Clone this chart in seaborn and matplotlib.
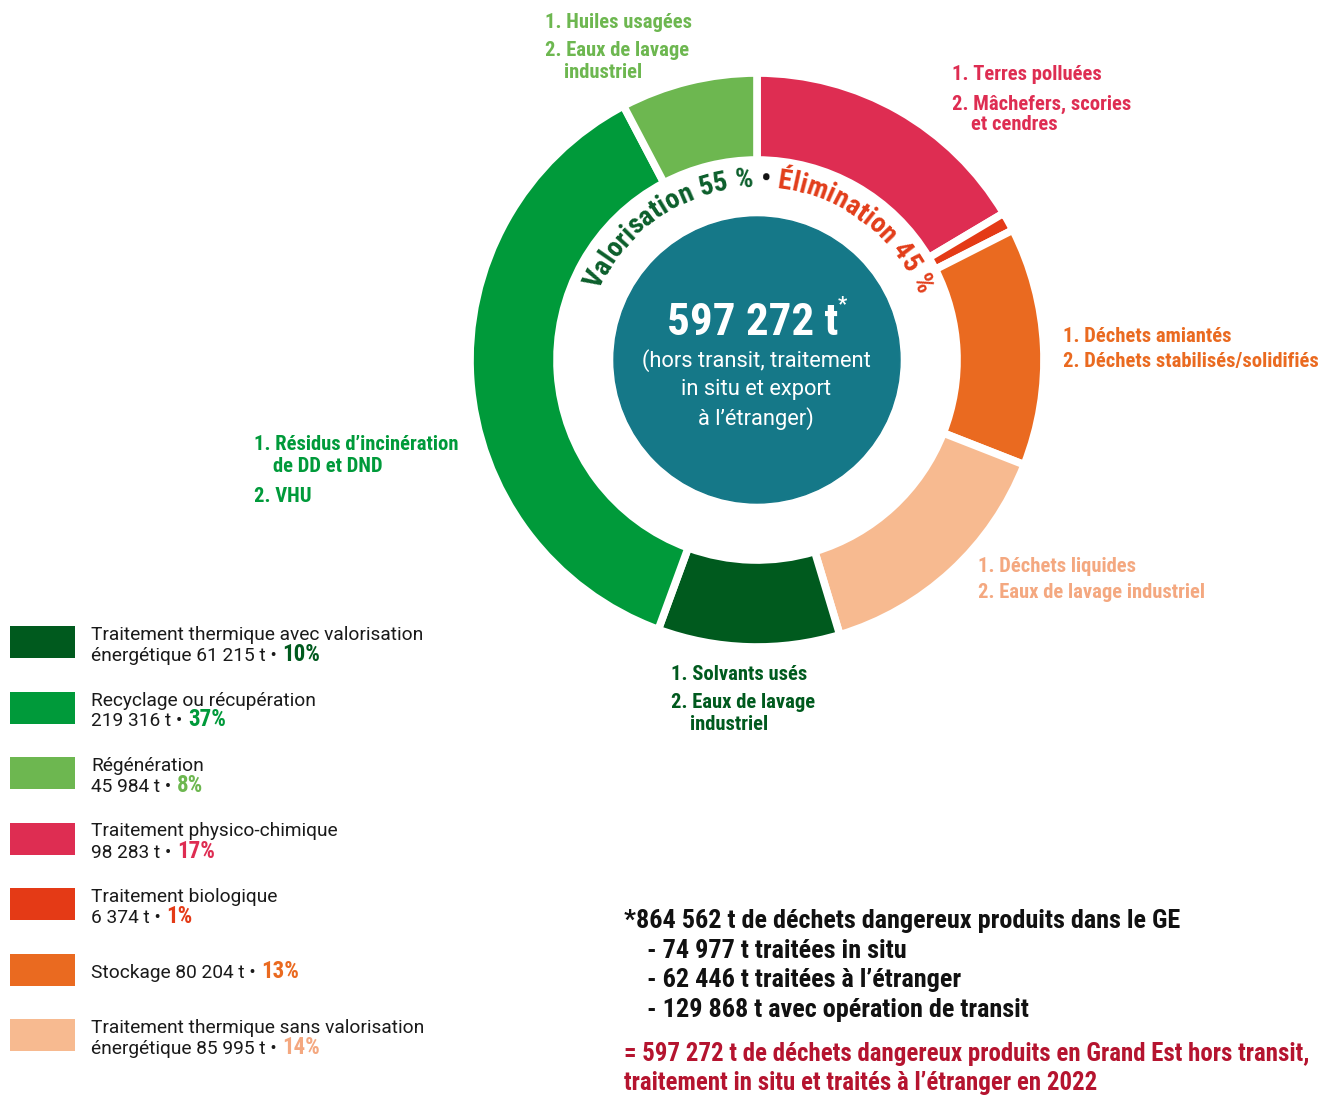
import matplotlib
matplotlib.use("Agg")
import numpy as np
import matplotlib.pyplot as plt
import seaborn as sns
from matplotlib.patches import Circle, Rectangle
from matplotlib import font_manager

# data (pie order, clockwise from 12 o'clock)
categories = ["Traitement physico-chimique", "Traitement biologique", "Stockage",
              "Traitement thermique sans valorisation énergétique",
              "Traitement thermique avec valorisation énergétique",
              "Recyclage ou récupération", "Régénération"]
tonnes = [98283, 6374, 80204, 85995, 61215, 219316, 45984]
pcts = [17, 1, 13, 14, 10, 37, 8]
seg_colors = ["#DE2D52", "#E43A16", "#EA6A20", "#F7BA90", "#005A1E", "#009A3A", "#6DB750"]
label_colors = ["#DE2D52", "#E43A16", "#EA6A20", "#F4A880", "#005A1E", "#009A3A", "#6DB750"]

# legend order and text
legend_order = [4, 5, 6, 0, 1, 2, 3]
legend_line1 = ["Traitement thermique avec valorisation", "Recyclage ou récupération",
                "Régénération", "Traitement physico-chimique", "Traitement biologique",
                "", "Traitement thermique sans valorisation"]
legend_prefix = ["énergétique ", "", "", "", "", "Stockage ", "énergétique "]

# outer labels per segment
seg_labels = {
    0: ["1. Terres polluées", "2. Mâchefers, scories", "    et cendres"],
    2: ["1. Déchets amiantés", "2. Déchets stabilisés/solidifiés"],
    3: ["1. Déchets liquides", "2. Eaux de lavage industriel"],
    4: ["1. Solvants usés", "2. Eaux de lavage", "    industriel"],
    5: ["1. Résidus d’incinération", "    de DD et DND", "2. VHU"],
    6: ["1. Huiles usagées", "2. Eaux de lavage", "    industriel"],
}

total_label = "597 272 t"
center_sub = ["(hors transit, traitement", "in situ et export", "à l’étranger)"]
arc_parts = [("Valorisation 55 %", "#0B5E2B"), (" • ", "#111111"), ("Élimination 45 %", "#E23D1A")]

foot_black = ["*864 562 t de déchets dangereux produits dans le GE",
              "- 74 977 t traitées in situ",
              "- 62 446 t traitées à l’étranger",
              "- 129 868 t avec opération de transit"]
foot_red = ["= 597 272 t de déchets dangereux produits en Grand Est hors transit,",
            "traitement in situ et traités à l’étranger en 2022"]

sns.set_theme(style="white")
avail = {f.name for f in font_manager.fontManager.ttflist}
COND = next((f for f in ["Roboto Condensed", "Liberation Sans Narrow", "Roboto"] if f in avail), "DejaVu Sans")
REG = next((f for f in ["Roboto", "Open Sans", "DejaVu Sans"] if f in avail), "DejaVu Sans")
plt.rcParams["font.family"] = [REG, "DejaVu Sans"]

H = 1095
def Y(y):
    return H - y

fig = plt.figure(figsize=(13.2, 10.95), dpi=100)
ax = fig.add_axes([0, 0, 1, 1])
renderer = fig.canvas.get_renderer()

cx, cy = 757, Y(360)
ax.pie(tonnes, colors=seg_colors, startangle=90, counterclock=False,
       radius=287, center=(cx, cy),
       wedgeprops=dict(width=87, edgecolor="white", linewidth=5.5))
ax.add_patch(Circle((cx, cy), 143, color="#157888", zorder=3))

ax.set_xlim(0, 1320)
ax.set_ylim(0, H)
ax.set_aspect("equal")
ax.axis("off")


def text_w(s, size, family, weight):
    t = ax.text(0, 0, s, fontsize=size, family=family, weight=weight)
    w = t.get_window_extent(renderer).width
    t.remove()
    return w


def fit(s, target, family, weight):
    return 20 * target / text_w(s, 20, family, weight)


# curved text
arc_fs = fit("".join(p[0] for p in arc_parts), 405, COND, "bold")
r_base = 173
chars = []
for s, c in arc_parts:
    for ch in s:
        w = text_w("|" + ch + "|", arc_fs, COND, "bold") - text_w("||", arc_fs, COND, "bold")
        chars.append((ch, c, w))
L = sum(c[2] for c in chars)
theta0 = np.radians(89) + L / 2 / r_base
pos = 0
for ch, c, w in chars:
    th = theta0 - (pos + w / 2) / r_base
    ax.text(cx + r_base * np.cos(th), cy + r_base * np.sin(th), ch, color=c,
            fontsize=arc_fs, family=COND, weight="bold", ha="center", va="baseline",
            rotation=np.degrees(th) - 90, rotation_mode="anchor", zorder=5)
    pos += w

# center text
big_fs = fit(total_label, 172, COND, "bold")
ax.text(753, Y(323), total_label, color="white", fontsize=big_fs, family=COND,
        weight="bold", ha="center", va="center", zorder=5)
ax.text(842, Y(305), "*", color="white", fontsize=big_fs * 0.45, family=COND,
        weight="bold", ha="center", va="center", zorder=5)
sub_fs = fit(center_sub[0], 228, REG, "normal")
for i, s in enumerate(center_sub):
    ax.text(756, Y(361 + 29 * i), s, color="white", fontsize=sub_fs, family=REG,
            ha="center", va="center", zorder=5)

# outer labels
lab_fs = fit(seg_labels[2][1], 255, COND, "bold")
label_pos = {0: (952, [75, 104, 125]), 2: (1063, [336, 362]), 3: (978, [567, 592]),
             4: (671, [674, 703, 724]), 5: (254, [445, 467, 496]), 6: (545, [22, 51, 73])}
for k, lines in seg_labels.items():
    x, ys = label_pos[k]
    for s, y in zip(lines, ys):
        ax.text(x, Y(y), s, color=label_colors[k], fontsize=lab_fs, family=COND,
                weight="bold", ha="left", va="center")

# legend
leg_fs = fit(legend_line1[0], 331, REG, "normal")
for i, k in enumerate(legend_order):
    top = 626 + 65.5 * i
    ax.add_patch(Rectangle((10, Y(top + 32)), 65, 32, color=seg_colors[k], lw=0))
    mid = top + 16
    txt = legend_prefix[i] + f"{tonnes[k]:,}".replace(",", " ") + " t • "
    if legend_line1[i]:
        ax.text(91, Y(mid - 2), legend_line1[i], color="#1a1a1a", fontsize=leg_fs,
                family=REG, ha="left", va="baseline")
        base = mid + 19
    else:
        base = mid + 8
    t = ax.text(91, Y(base), txt, color="#1a1a1a", fontsize=leg_fs, family=REG,
                ha="left", va="baseline")
    x1 = t.get_window_extent(renderer).x1
    ax.text(x1 + 1, Y(base), f"{pcts[k]}%", color=label_colors[k], fontsize=leg_fs * 1.2,
            family=COND, weight="bold", ha="left", va="baseline")

# footnote
foot_fs = fit(foot_black[0], 556, COND, "bold")
for i, s in enumerate(foot_black):
    ax.text(624 if i == 0 else 647, Y(921 + 29.5 * i), s, color="#111111", fontsize=foot_fs,
            family=COND, weight="bold", ha="left", va="center")
red_fs = fit(foot_red[0], 682, COND, "bold")
for i, s in enumerate(foot_red):
    ax.text(624, Y(1054 + 29 * i), s, color="#B5142F", fontsize=red_fs, family=COND,
            weight="bold", ha="left", va="center")

fig.savefig("out.png", dpi=100, facecolor="white")
